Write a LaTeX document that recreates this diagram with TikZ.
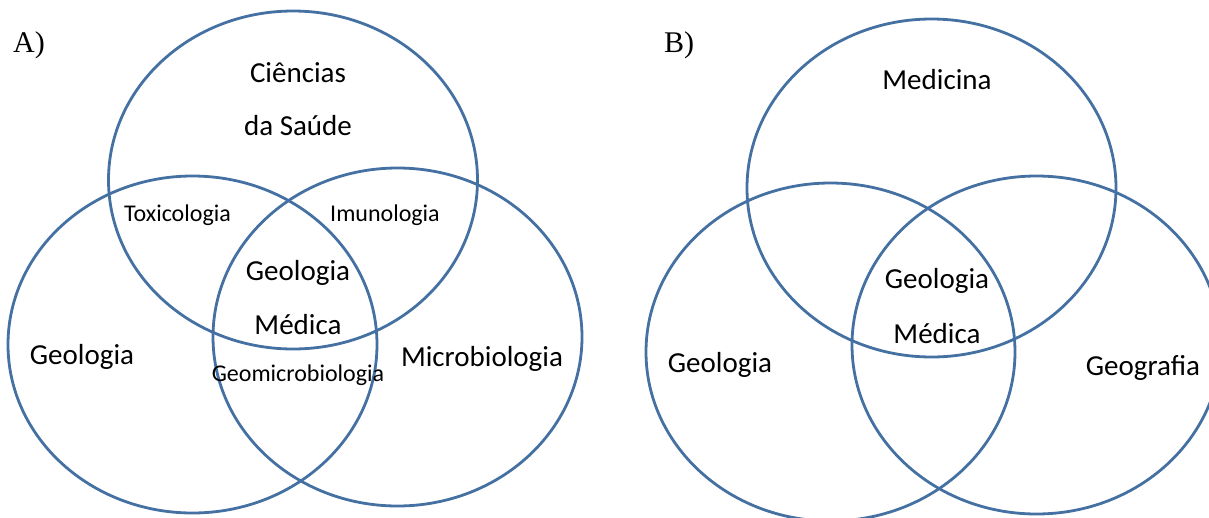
\documentclass[tikz,border=0pt]{standalone}
\usepackage{fontspec}
\setmainfont{Carlito}
\newfontfamily\serifpanel{Liberation Serif}
\definecolor{vennblue}{RGB}{68,112,162}
\begin{document}
\begin{tikzpicture}[x=1pt,y=-1pt,
  venn/.style={draw=vennblue,line width=2.8pt},
  big/.style={inner sep=0pt,anchor=base,font=\fontsize{29}{34}\selectfont},
  small/.style={inner sep=0pt,anchor=base,font=\fontsize{24}{28}\selectfont},
  panel/.style={inner sep=0pt,anchor=base west,font=\serifpanel\fontsize{30}{34}\selectfont}]
\useasboundingbox (0,0) rectangle (1209,517);
% Panel A
\draw[venn] (293,180) ellipse [x radius=184.5, y radius=169];
\draw[venn] (192.5,344.5) ellipse [x radius=184.5, y radius=168.5];
\draw[venn] (397.5,337) ellipse [x radius=184.5, y radius=169];
\node[panel] (la) at (13,52) {A)};
\node[big] (cs1) at (298,82) {Ciências};
\node[big] (cs2) at (298,135) {da Saúde};
\node[small] (tox) at (177.5,221) {Toxicologia};
\node[small] (imu) at (385,221) {Imunologia};
\node[big] (gm1) at (298,280) {Geologia};
\node[big] (gm2) at (298,334) {Médica};
\node[big] (geo) at (82,364) {Geologia};
\node[big] (mic) at (482,366) {Microbiologia};
\node[small] (gmb) at (298,381) {Geomicrobiologia};
% Panel B
\draw[venn] (931.5,188) ellipse [x radius=184.5, y radius=169];
\draw[venn] (830.5,352) ellipse [x radius=184.5, y radius=169];
\draw[venn] (1036.5,345) ellipse [x radius=184.5, y radius=169];
\node[panel] (lb) at (664,52) {B)};
\node[big] (med) at (937,89) {Medicina};
\node[big] (bg1) at (937,288) {Geologia};
\node[big] (bg2) at (937,343) {Médica};
\node[big] (bgeo) at (720,372) {Geologia};
\node[big] (bgeog) at (1143,375) {Geografia};
\end{tikzpicture}
\end{document}
